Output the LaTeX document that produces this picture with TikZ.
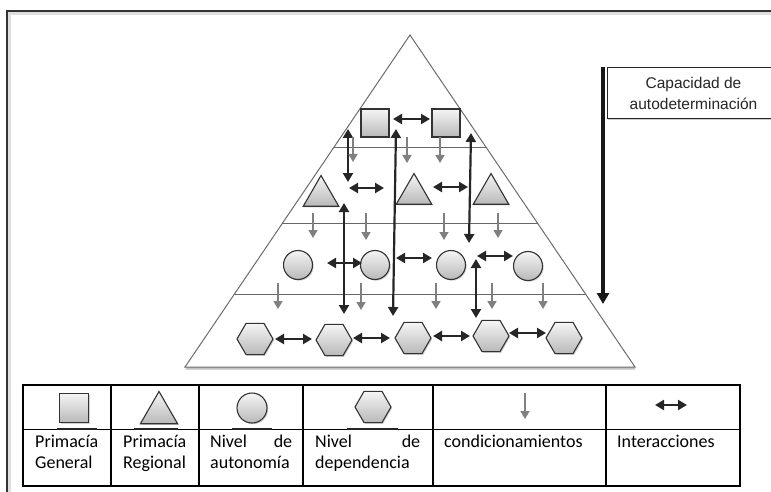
\documentclass[tikz,border=0pt]{standalone}
\usepackage{fontspec}
\setmainfont{Carlito}
\newfontfamily\arialfont{Liberation Sans}
\usetikzlibrary{shapes.geometric,arrows.meta,shadows,calc}

\begin{document}
\begin{tikzpicture}[x=1pt,y=-1pt,
    figura/.style={draw=black!80, line width=1.1pt, inner sep=0pt,
      top color=gray!8, bottom color=gray!55,
      drop shadow={shadow xshift=1.2pt, shadow yshift=-1.2pt, opacity=0.35}},
    general/.style={figura, rectangle, minimum size=28pt},
    regional/.style={figura, regular polygon, regular polygon sides=3, minimum size=41pt},
    autonomia/.style={figura, circle, minimum size=29pt},
    dependencia/.style={figura, regular polygon, regular polygon sides=6, minimum size=36pt},
    interaccion/.style={{Triangle[length=9pt,width=10pt]}-{Triangle[length=9pt,width=10pt]},
      line width=2.2pt, black!85},
    condicion/.style={-{Triangle[length=8pt,width=9pt]}, line width=1.6pt, gray},
    nivel/.style={gray!80!black, line width=1pt},
    celda/.style={anchor=north west, inner sep=0pt, align=left,
      font=\fontsize{18}{21}\selectfont}
  ]
  \useasboundingbox (0,0) rectangle (771,492);

  % marco
  \draw[gray!25, line width=3pt] (9.5,492) -- (9.5,13.5) -- (771,13.5);
  \draw[black!80, line width=1.5pt] (7,492) -- (7,11) -- (771,11);

  % piramide
  \coordinate (apex) at (410,35);
  \coordinate (bl) at (185,367);
  \coordinate (br) at (635,367);
  \draw[draw=gray!85!black, line width=1pt, fill=white,
    drop shadow={shadow xshift=0.5pt, shadow yshift=-2.5pt, fill=gray!70, opacity=0.7}]
    (apex) -- (br) -- (bl) -- cycle;
  \draw[nivel] ($(apex)!0.340!(bl)$) -- ($(apex)!0.340!(br)$);
  \draw[nivel] ($(apex)!0.569!(bl)$) -- ($(apex)!0.569!(br)$);
  \draw[nivel] ($(apex)!0.783!(bl)$) -- ($(apex)!0.783!(br)$);

  % capacidad de autodeterminacion
  \node[draw=black!85, line width=1pt, fill=white, minimum width=172pt,
    minimum height=51pt, anchor=north west, align=center,
    font=\arialfont\fontsize{15.5}{21}\selectfont, text=black!85,
    drop shadow={shadow xshift=0pt, shadow yshift=-2pt, opacity=0.4}]
    (cap) at (607,67) {Capacidad de\\autodeterminación};
  \coordinate (capfin) at (603,304);
  \draw[-{Triangle[length=11pt,width=12pt]}, line width=4pt, black!90]
    ([xshift=-4pt]cap.north west) -- (capfin);

  % figuras
  \node[general] (genA) at (375,123) {};
  \node[general] (genB) at (446,123) {};

  \node[regional] (regA) at (321,196) {};
  \node[regional] (regB) at (414,194) {};
  \node[regional] (regC) at (491,194) {};

  \node[autonomia] (autA) at (298,265) {};
  \node[autonomia] (autB) at (375,265) {};
  \node[autonomia] (autC) at (451,265) {};
  \node[autonomia] (autD) at (528,266) {};

  \node[dependencia] (depA) at (255,339) {};
  \node[dependencia] (depB) at (334,340) {};
  \node[dependencia] (depC) at (413,338) {};
  \node[dependencia] (depD) at (491,336) {};
  \node[dependencia] (depE) at (564,338) {};

  % interacciones horizontales
  \foreach \n/\xa/\xb/\y in {g/393/430/119, ra/349/384/188, rb/433/468/187,
      aa/327/362/263, ab/396/432/258, ac/477/513/256,
      da/275/312/339, db/353/390/338, dc/433/470/336, dd/509/546/333} {
    \coordinate (ih\n1) at (\xa,\y);
    \coordinate (ih\n2) at (\xb,\y);
    \draw[interaccion] (ih\n1) -- (ih\n2);
  }

  % interacciones verticales
  \foreach \n/\xa/\ya/\xb/\yb in {a/348/129/348/182, b/344/203/344/314,
      c/396/129/393/316, d/471/133/469/243, e/476/259/476/318} {
    \coordinate (iv\n1) at (\xa,\ya);
    \coordinate (iv\n2) at (\xb,\yb);
    \draw[interaccion] (iv\n1) -- (iv\n2);
  }

  % condicionamientos
  \foreach \n/\x/\ya/\yb in {a/353/137/162, b/407/137/163, c/440/137/163,
      d/313/213/238, e/366/213/240, f/444/213/240, g/498/213/238,
      h/278/283/309, i/361/283/310, j/436/283/309, k/492/283/309, l/543/283/309} {
    \coordinate (cd\n1) at (\x,\ya);
    \coordinate (cd\n2) at (\x,\yb);
    \draw[condicion] (cd\n1) -- (cd\n2);
  }

  % leyenda
  \draw[line width=1.5pt] (23,385) rectangle (740,486);
  \draw[line width=0.8pt] (23,429) -- (740,429);
  \draw[line width=1.2pt] (111,385) -- (111,486);
  \draw[line width=1.2pt] (199,385) -- (199,486);
  \draw[line width=1.2pt] (303,385) -- (303,486);
  \draw[line width=1.2pt] (433,385) -- (433,486);
  \draw[line width=1.2pt] (606,385) -- (606,486);

  \node[general, minimum size=29pt] (lgGeneral) at (74,408) {};
  \node[regional, minimum size=43pt] (lgRegional) at (159,413) {};
  \node[autonomia, minimum size=30pt] (lgAutonomia) at (252,408) {};
  \node[dependencia] (lgDependencia) at (373,407) {};
  \draw[black!85, line width=2pt] (57,429) -- (97,429);
  \draw[black!85, line width=2pt] (134,429) -- (178,429);
  \draw[black!85, line width=2pt] (232,429) -- (272,429);
  \draw[black!85, line width=2pt] (347,429) -- (398,429);

  \coordinate (lgCond1) at (525,393);
  \coordinate (lgCond2) at (525,419);
  \draw[condicion] (lgCond1) -- (lgCond2);
  \coordinate (lgInter1) at (655,405);
  \coordinate (lgInter2) at (687,405);
  \draw[interaccion] (lgInter1) -- (lgInter2);

  \node[celda, text width=66pt] (txGeneral) at (35,435) {Primacía\\General};
  \node[celda, text width=66pt] (txRegional) at (123,435) {Primacía\\Regional};
  \node[celda, text width=82pt] (txAutonomia) at (210,435) {Nivel\hfill de\\autonomía};
  \node[celda, text width=105pt] (txDependencia) at (315,435) {Nivel\hfill de\\dependencia};
  \node[celda, text width=150pt] (txCondicion) at (444,435) {condicionamientos};
  \node[celda, text width=110pt] (txInteraccion) at (617,435) {Interacciones};
\end{tikzpicture}
\end{document}
